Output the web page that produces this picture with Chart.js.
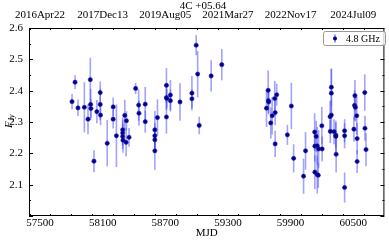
<!DOCTYPE html>
<html>
<head>
<meta charset="utf-8">
<script src="https://cdn.jsdelivr.net/npm/chart.js@4.4.1/dist/chart.umd.min.js"></script>
<style>
  html, body { margin: 0; padding: 0; background: #fff; }
  #wrap { width: 389px; height: 240px; }
</style>
</head>
<body>
<div id="wrap"><canvas id="lc"></canvas></div>
<script>
// 4C +05.64 light curve at 4.8 GHz
const mjd = [57807, 57836, 57864, 57925, 57960, 57982, 57985, 57988, 58017, 58045,
  58077, 58077, 58080, 58144, 58201, 58201, 58232, 58292, 58292, 58292,
  58295, 58312, 58328, 58325, 58353, 58416, 58445, 58448, 58508, 58508,
  58600, 58600, 58600, 58600, 58625, 58711, 58711, 58714, 58711, 58749,
  58749, 58841, 58955, 58955, 58996, 59010, 59025, 59139, 59241,
  59669, 59685, 59687, 59690, 59710, 59723, 59748, 59752, 59752, 59767,
  59869, 59907, 59929, 60024, 60043, 60130, 60132, 60132, 60145, 60155,
  60155, 60168, 60165, 60199, 60202, 60280, 60278, 60290, 60290, 60290,
  60316, 60333, 60333, 60336, 60417, 60417, 60417, 60506, 60512, 60516,
  60520, 60533, 60537, 60537, 60610, 60612, 60622];
const flux = [2.365, 2.427, 2.345, 2.347, 2.309, 2.435, 2.356, 2.343, 2.175, 2.333,
  2.394, 2.356, 2.322, 2.232, 2.348, 2.309, 2.256, 2.275, 2.265, 2.254,
  2.242, 2.321, 2.304, 2.235, 2.251, 2.407, 2.354, 2.328, 2.357, 2.301,
  2.275, 2.256, 2.243, 2.208, 2.314, 2.417, 2.378, 2.375, 2.316, 2.386,
  2.368, 2.364, 2.392, 2.374, 2.545, 2.453, 2.289, 2.447, 2.483,
  2.344, 2.401, 2.368, 2.364, 2.297, 2.320, 2.375, 2.330, 2.230, 2.387,
  2.259, 2.351, 2.184, 2.127, 2.208, 2.268, 2.223, 2.140, 2.254, 2.224,
  2.132, 2.214, 2.130, 2.288, 2.214, 2.270, 2.317, 2.322, 2.392, 2.411,
  2.269, 2.258, 2.254, 2.197, 2.272, 2.256, 2.091, 2.277, 2.353, 2.384,
  2.347, 2.320, 2.247, 2.174, 2.394, 2.280, 2.212];
const fluxErr = [0.024, 0.022, 0.026, 0.080, 0.048, 0.070, 0.050, 0.030, 0.035, 0.037,
  0.035, 0.050, 0.032, 0.074, 0.030, 0.030, 0.100, 0.040, 0.040, 0.040,
  0.040, 0.050, 0.030, 0.045, 0.030, 0.018, 0.050, 0.040, 0.055, 0.035,
  0.060, 0.040, 0.040, 0.060, 0.058, 0.055, 0.040, 0.030, 0.053, 0.048,
  0.035, 0.060, 0.055, 0.030, 0.032, 0.074, 0.028, 0.050, 0.050,
  0.060, 0.063, 0.040, 0.040, 0.050, 0.060, 0.056, 0.040, 0.042, 0.035,
  0.032, 0.074, 0.045, 0.056, 0.060, 0.060, 0.050, 0.055, 0.050, 0.060,
  0.060, 0.060, 0.040, 0.060, 0.040, 0.037, 0.050, 0.050, 0.077, 0.060,
  0.040, 0.040, 0.050, 0.058, 0.037, 0.040, 0.048, 0.040, 0.048, 0.050,
  0.045, 0.060, 0.050, 0.037, 0.058, 0.040, 0.053];

const mjdTicks = [57500, 58100, 58700, 59300, 59900, 60500];
const dateTicks = ['2016Apr22', '2017Dec13', '2019Aug05', '2021Mar27', '2022Nov17', '2024Jul09'];
const fluxTicks = [2.1, 2.2, 2.3, 2.4, 2.5, 2.6];
const seriesLabel = '4.8 GHz';
const titleText = '4C +05.64';

const FONT = "'Liberation Serif', 'DejaVu Serif', serif";
Chart.defaults.font.family = FONT;
Chart.defaults.color = '#000';

const points = mjd.map((m, i) => ({ x: m, y: flux[i] }));

// error bars drawn through the scales
const errorBars = {
  id: 'errorBars',
  beforeDatasetsDraw(chart) {
    const ctx = chart.ctx, xs = chart.scales.x, ys = chart.scales.y;
    ctx.save();
    ctx.strokeStyle = 'rgba(70, 70, 255, 0.5)';
    ctx.lineWidth = 1.6;
    mjd.forEach((m, i) => {
      const px = xs.getPixelForValue(m);
      ctx.beginPath();
      ctx.moveTo(px, ys.getPixelForValue(flux[i] - fluxErr[i]));
      ctx.lineTo(px, ys.getPixelForValue(flux[i] + fluxErr[i]));
      ctx.stroke();
    });
    ctx.restore();
  }
};

// frame, inward ticks, titles, legend
const decor = {
  id: 'decor',
  afterDraw(chart) {
    const ctx = chart.ctx, a = chart.chartArea;
    const xs = chart.scales.x, ys = chart.scales.y;
    ctx.save();
    ctx.strokeStyle = '#000';
    ctx.lineWidth = 1;
    ctx.strokeRect(a.left + 0.5, a.top + 0.5, a.right - a.left - 1, a.bottom - a.top - 1);

    ctx.beginPath();
    for (let v = 57400; v <= 60798; v += 200) {
      const px = Math.round(xs.getPixelForValue(v)) + 0.5;
      const len = mjdTicks.includes(v) ? 4 : 2;
      ctx.moveTo(px, a.bottom); ctx.lineTo(px, a.bottom - len);
      ctx.moveTo(px, a.top); ctx.lineTo(px, a.top + len);
    }
    for (let k = 40; k <= 52; k++) {
      const v = k * 0.05;
      const py = Math.round(ys.getPixelForValue(v)) + 0.5;
      const len = k % 2 === 0 ? 4 : 2;
      ctx.moveTo(a.left, py); ctx.lineTo(a.left + len, py);
      ctx.moveTo(a.right, py); ctx.lineTo(a.right - len, py);
    }
    ctx.stroke();

    ctx.fillStyle = '#000';
    ctx.textAlign = 'center';
    ctx.textBaseline = 'middle';
    ctx.font = '11px ' + FONT;
    ctx.fillText(titleText, 203, 6);
    ctx.fillText('MJD', (a.left + a.right) / 2, 233);

    // y title F_Jy
    ctx.translate(9, 121);
    ctx.rotate(-Math.PI / 2);
    ctx.font = 'italic 11px ' + FONT;
    ctx.textAlign = 'left';
    ctx.fillText('F', -7, 0);
    ctx.font = 'italic 8px ' + FONT;
    ctx.fillText('Jy', -0.5, 3);
    ctx.setTransform(1, 0, 0, 1, 0, 0);

    // legend box
    const bx = 323.5, by = 31.5, bw = 62, bh = 14;
    ctx.strokeStyle = '#999';
    ctx.fillStyle = 'rgba(255,255,255,0.8)';
    ctx.beginPath();
    ctx.roundRect(bx, by, bw, bh, 2);
    ctx.fill();
    ctx.stroke();
    ctx.strokeStyle = 'rgba(70, 70, 255, 0.8)';
    ctx.lineWidth = 1.4;
    ctx.beginPath();
    ctx.moveTo(335, 34.5); ctx.lineTo(335, 42.5);
    ctx.stroke();
    ctx.fillStyle = '#00008b';
    ctx.beginPath();
    ctx.arc(335, 38.5, 2, 0, Math.PI * 2);
    ctx.fill();
    ctx.fillStyle = '#000';
    ctx.font = '10px ' + FONT;
    ctx.textAlign = 'left';
    ctx.fillText(seriesLabel, 346, 39);
    ctx.restore();
  }
};

new Chart(document.getElementById('lc'), {
  type: 'scatter',
  data: {
    datasets: [{
      label: seriesLabel,
      data: points,
      pointRadius: 2.1,
      pointBackgroundColor: '#00008b',
      pointBorderColor: '#1a1aa8',
      pointBorderWidth: 0.6
    }]
  },
  options: {
    responsive: true,
    maintainAspectRatio: false,
    animation: false,
    layout: { padding: { left: 0, right: 2, top: 0, bottom: 0 } },
    plugins: { legend: { display: false }, tooltip: { enabled: false } },
    scales: {
      x: {
        type: 'linear', position: 'bottom', min: 57395, max: 60798,
        afterBuildTicks: s => { s.ticks = mjdTicks.map(v => ({ value: v })); },
        afterFit: s => { s.height = 24; },
        grid: { display: false, drawTicks: false },
        border: { display: false },
        ticks: { font: { size: 11 }, padding: 1, maxRotation: 0, callback: v => String(v) }
      },
      x2: {
        type: 'linear', position: 'top', min: 57395, max: 60798,
        afterBuildTicks: s => { s.ticks = mjdTicks.map(v => ({ value: v })); },
        afterFit: s => { s.height = 28; },
        grid: { display: false, drawTicks: false },
        border: { display: false },
        ticks: { font: { size: 11 }, padding: 6, maxRotation: 0,
          callback: v => dateTicks[mjdTicks.indexOf(v)] }
      },
      y: {
        min: 2.0, max: 2.6,
        afterBuildTicks: s => { s.ticks = fluxTicks.map(v => ({ value: v })); },
        afterFit: s => { s.width = 29; },
        grid: { display: false, drawTicks: false },
        border: { display: false },
        ticks: { font: { size: 11 }, padding: 6, callback: v => v.toFixed(1) }
      }
    }
  },
  plugins: [errorBars, decor]
});
</script>
</body>
</html>
